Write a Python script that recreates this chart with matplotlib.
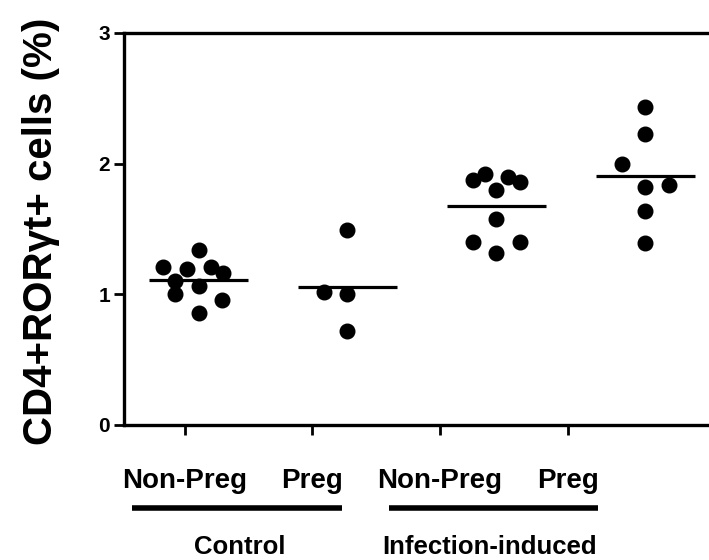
import numpy as np
import matplotlib
matplotlib.use('Agg')
import matplotlib.pyplot as plt
import matplotlib.transforms as mtransforms

plt.rcParams['font.family'] = ['Liberation Sans', 'DejaVu Sans']
plt.rcParams['font.weight'] = 'bold'

# --- data ---
group_pos = [0, 1, 2, 3]
ctrl_nonpreg = [1.21, 1.34, 1.19, 1.21, 1.16, 1.10, 1.06, 1.00, 0.96, 0.86]
ctrl_nonpreg_dx = [-0.24, 0.0, -0.08, 0.085, 0.165, -0.155, 0.0, -0.155, 0.16, 0.0]
ctrl_preg = [1.49, 1.02, 1.00, 0.72]
ctrl_preg_dx = [0.0, -0.16, 0.0, 0.0]
inf_nonpreg = [1.875, 1.92, 1.90, 1.86, 1.80, 1.58, 1.40, 1.40, 1.32]
inf_nonpreg_dx = [-0.155, -0.08, 0.08, 0.16, 0.0, 0.0, -0.155, 0.16, 0.0]
inf_preg = [2.435, 2.23, 2.00, 1.82, 1.84, 1.64, 1.395]
inf_preg_dx = [0.0, 0.0, -0.16, 0.0, 0.155, 0.0, 0.0]

series = [ctrl_nonpreg, ctrl_preg, inf_nonpreg, inf_preg]
offsets = [ctrl_nonpreg_dx, ctrl_preg_dx, inf_nonpreg_dx, inf_preg_dx]

tick_pos = [-0.09, 0.76, 1.62, 2.48]
tick_labels = ['Non-Preg', 'Preg', 'Non-Preg', 'Preg']
group_names = ['Control', 'Infection-induced']

fig = plt.figure(figsize=(7.09, 5.60), dpi=100)
ax = fig.add_axes([0.1749, 0.2411, 0.8406, 0.700])

for x0, vals, dx in zip(group_pos, series, offsets):
    xs = [x0 + d for d in dx]
    ax.plot(xs, vals, 'o', color='black', markersize=10.5, linestyle='none')
    m = np.mean(vals)
    ax.plot([x0 - 0.33, x0 + 0.33], [m, m], color='black', lw=2.3,
            solid_capstyle='butt')

ax.set_xlim(-0.5, 3.5)
ax.set_ylim(0, 3)
ax.set_yticks([0, 1, 2, 3])
ax.set_yticklabels(['0', '1', '2', '3'], fontsize=15, fontweight='bold')
ax.set_xticks(tick_pos)
ax.set_xticklabels(tick_labels, fontsize=20, fontweight='bold')
ax.tick_params(axis='both', direction='out', length=7, width=2)
ax.tick_params(axis='x', pad=24)
ax.tick_params(axis='y', pad=3)
for sp in ax.spines.values():
    sp.set_linewidth(2.4)

# group underline bars and names
trans = mtransforms.blended_transform_factory(ax.transData, ax.transAxes)
bars = [(-0.446, 0.963), (1.279, 2.681)]
name_x = [0.279, 1.956]
for (x1, x2), nx, name in zip(bars, name_x, group_names):
    ax.plot([x1, x2], [-0.212, -0.212], color='black', lw=4, transform=trans,
            clip_on=False, solid_capstyle='butt')
    ax.text(nx, -0.328, name, transform=trans, ha='center', va='baseline',
            fontsize=18.5, fontweight='bold')

fig.text(0.058, 0.587, 'CD4+RORγt+ cells (%)', rotation=90, ha='center',
         va='center', fontsize=29, fontweight='bold')

fig.savefig('out.png', dpi=100)
